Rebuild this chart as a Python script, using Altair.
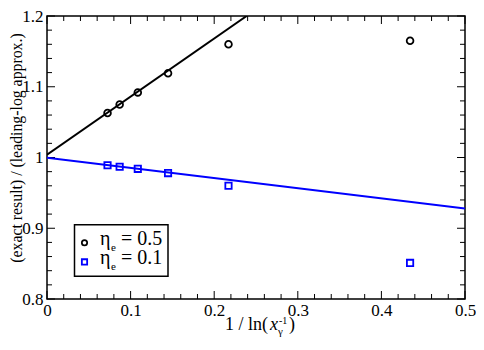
import altair as alt
import pandas as pd

# data
x_vals = [0.0724, 0.0869, 0.1086, 0.1448, 0.2171, 0.4343]
ratio_05 = [1.063, 1.075, 1.092, 1.119, 1.160, 1.165]
ratio_01 = [0.989, 0.987, 0.984, 0.978, 0.960, 0.851]
fit_x_05 = [0.0, 0.2388]
fit_y_05 = [1.004, 1.2]
fit_x_01 = [0.0, 0.5]
fit_y_01 = [0.9995, 0.928]

x_major = [0, 0.1, 0.2, 0.3, 0.4, 0.5]
x_minor = [0.02, 0.04, 0.06, 0.08, 0.12, 0.14, 0.16, 0.18, 0.22, 0.24, 0.26, 0.28,
           0.32, 0.34, 0.36, 0.38, 0.42, 0.44, 0.46, 0.48]
y_major = [0.8, 0.9, 1.0, 1.1, 1.2]
y_minor = [0.82, 0.84, 0.86, 0.88, 0.92, 0.94, 0.96, 0.98, 1.02, 1.04, 1.06, 1.08,
           1.12, 1.14, 1.16, 1.18]

W, H = 418, 283
FONT = "Liberation Serif, Times New Roman, DejaVu Serif, serif"
BLUE = "#0000ff"

xs = alt.Scale(domain=[0, 0.5], nice=False, zero=False)
ys = alt.Scale(domain=[0.8, 1.2], nice=False, zero=False)

one = pd.DataFrame({"a": [0]})

base = alt.Chart(pd.DataFrame({"x": [0.0], "y": [0.8]})).mark_point(opacity=0).encode(
    x=alt.X("x:Q", scale=xs, axis=alt.Axis(values=x_major, format="~g", title=None,
                                           ticks=False, tickSize=0, grid=False, domain=False,
                                           labelFlush=False, labelOverlap=False,
                                           labelFont=FONT, labelFontSize=17, labelPadding=3,
                                           labelColor="black")),
    y=alt.Y("y:Q", scale=ys, axis=alt.Axis(values=y_major, format="~g", title=None,
                                           ticks=False, tickSize=0, grid=False, domain=False,
                                           labelFlush=False, labelOverlap=False,
                                           labelFont=FONT, labelFontSize=17, labelPadding=4,
                                           labelColor="black")),
)

def xticks(vals, length):
    d = pd.DataFrame({"x": vals})
    b = alt.Chart(d).mark_rule(color="black", strokeWidth=1)
    bottom = b.encode(x=alt.X("x:Q", scale=xs), y=alt.value(H), y2=alt.value(H - length))
    top = b.encode(x=alt.X("x:Q", scale=xs), y=alt.value(0), y2=alt.value(length))
    return [bottom, top]

def yticks(vals, length):
    d = pd.DataFrame({"y": vals})
    b = alt.Chart(d).mark_rule(color="black", strokeWidth=1)
    left = b.encode(y=alt.Y("y:Q", scale=ys), x=alt.value(0), x2=alt.value(length))
    right = b.encode(y=alt.Y("y:Q", scale=ys), x=alt.value(W), x2=alt.value(W - length))
    return [left, right]

ticks = xticks(x_major, 8) + xticks(x_minor, 5) + yticks(y_major, 8) + yticks(y_minor, 5)

fit05 = alt.Chart(pd.DataFrame({"x": fit_x_05, "y": fit_y_05})).mark_line(
    color="black", strokeWidth=2, clip=True).encode(
    x=alt.X("x:Q", scale=xs), y=alt.Y("y:Q", scale=ys))
fit01 = alt.Chart(pd.DataFrame({"x": fit_x_01, "y": fit_y_01})).mark_line(
    color=BLUE, strokeWidth=2, clip=True).encode(
    x=alt.X("x:Q", scale=xs), y=alt.Y("y:Q", scale=ys))

pts05 = alt.Chart(pd.DataFrame({"x": x_vals, "y": ratio_05})).mark_point(
    shape="circle", filled=False, color="black", size=45, strokeWidth=1.8, opacity=1).encode(
    x=alt.X("x:Q", scale=xs), y=alt.Y("y:Q", scale=ys))
pts01 = alt.Chart(pd.DataFrame({"x": x_vals, "y": ratio_01})).mark_point(
    shape="square", filled=False, color=BLUE, size=40, strokeWidth=1.8, opacity=1).encode(
    x=alt.X("x:Q", scale=xs), y=alt.Y("y:Q", scale=ys))

# legend (drawn by hand to get subscripts)
leg_box = alt.Chart(one).mark_rect(fill="white", stroke="black", strokeWidth=1.5).encode(
    x=alt.value(27.5), x2=alt.value(121), y=alt.value(208.7), y2=alt.value(260.2))
leg_c = alt.Chart(one).mark_point(shape="circle", filled=False, color="black", size=28,
                                  strokeWidth=1.8, opacity=1).encode(x=alt.value(37.5), y=alt.value(226.8))
leg_s = alt.Chart(one).mark_point(shape="square", filled=False, color=BLUE, size=28,
                                  strokeWidth=1.8, opacity=1).encode(x=alt.value(37.5), y=alt.value(245.9))

def txt(s, x, y, size=17, style="normal", angle=None, align="left", baseline="alphabetic"):
    kw = dict(text=s, font=FONT, fontSize=size, fontStyle=style,
              align=align, baseline=baseline, color="black")
    if angle is not None:
        kw["angle"] = angle
    return alt.Chart(one).mark_text(**kw).encode(x=alt.value(x), y=alt.value(y))

legend_texts = [
    txt("η", 53, 229, size=20), txt("e", 64, 235, size=11), txt("= 0.5", 74, 229, size=20),
    txt("η", 53, 248, size=20), txt("e", 64, 254, size=11), txt("= 0.1", 74, 248, size=20),
]

xtitle = [
    txt("1 / ln(", 178, 314, size=18),
    txt("x", 223, 314, size=18, style="italic"),
    txt("-1", 232, 308, size=10),
    txt("γ", 231, 319, size=11),
    txt(")", 242, 314, size=18),
]

ytitle = [txt("(exact result) / (leading-log approx.)", -30, 132, size=15.8, angle=270,
              align="center", baseline="middle")]

chart = alt.layer(base, *ticks, fit05, fit01, pts05, pts01, leg_box, leg_c, leg_s,
                  *legend_texts, *xtitle, *ytitle).properties(
    width=W, height=H, background="white",
    autosize=alt.AutoSizeParams(type="none"),
    padding={"left": 39, "top": 8, "right": 11, "bottom": 38},
).configure_view(stroke="black", strokeWidth=1.5)

chart.save("out.html", embed_options={"renderer": "svg", "actions": False})
